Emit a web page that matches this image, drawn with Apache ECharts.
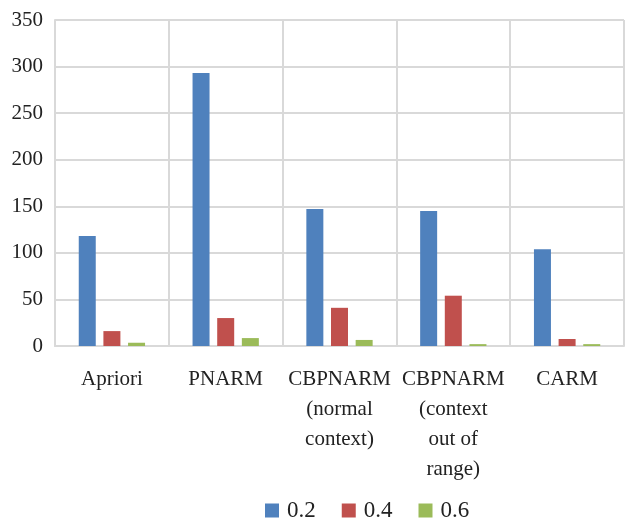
<!DOCTYPE html>
<html>
<head>
<meta charset="utf-8">
<script src="https://cdn.jsdelivr.net/npm/echarts@6/dist/echarts.min.js"></script>
<style>
  html, body { margin: 0; padding: 0; background: #fff; }
  #chart { width: 625px; height: 521px; }
</style>
</head>
<body>
<div id="chart"></div>
<script>
// Algorithms compared
var categories = [
  'Apriori',
  'PNARM',
  'CBPNARM\n(normal\ncontext)',
  'CBPNARM\n(context\nout of\nrange)',
  'CARM'
];
// Values per threshold setting
var seriesNames = ['0.2', '0.4', '0.6'];
var values02 = [118, 293, 147, 145, 104];
var values04 = [16, 30, 41, 54, 7.5];
var values06 = [3.5, 8.5, 6.5, 2, 2];
var yTicks = [0, 50, 100, 150, 200, 250, 300, 350];

var colors = ['#4f81bd', '#c0504d', '#9bbb59'];
var font = '"Liberation Serif", "DejaVu Serif", serif';

var chart = echarts.init(document.getElementById('chart'));
var data = [values02, values04, values06];

chart.setOption({
  animation: false,
  textStyle: { fontFamily: font },
  grid: { left: 55, right: 1, top: 20, bottom: 175, containLabel: false },
  legend: {
    data: seriesNames,
    left: 265,
    top: 499,
    padding: 0,
    itemWidth: 14,
    itemHeight: 14,
    itemGap: 26,
    icon: 'rect',
    textStyle: { fontFamily: font, fontSize: 23, color: '#222', padding: [0, 0, 0, 3] }
  },
  xAxis: {
    type: 'category',
    data: categories,
    axisLine: { lineStyle: { color: '#d9d9d9', width: 2 } },
    axisTick: { show: false },
    splitLine: { show: true, interval: 0, lineStyle: { color: '#d9d9d9', width: 2 } },
    axisLabel: {
      interval: 0,
      margin: 18,
      fontFamily: font,
      fontSize: 21,
      color: '#222',
      lineHeight: 30,
      align: 'center'
    }
  },
  yAxis: {
    type: 'value',
    min: yTicks[0],
    max: yTicks[yTicks.length - 1],
    interval: 50,
    axisLine: { show: true, lineStyle: { color: '#d9d9d9', width: 2 } },
    axisTick: { show: false },
    splitLine: { lineStyle: { color: '#d9d9d9', width: 2 } },
    axisLabel: { fontFamily: font, fontSize: 21, color: '#222', margin: 12 }
  },
  series: seriesNames.map(function (name, i) {
    return {
      name: name,
      type: 'bar',
      data: data[i],
      barWidth: 17,
      barGap: '45%',
      itemStyle: { color: colors[i] }
    };
  })
});
</script>
</body>
</html>
